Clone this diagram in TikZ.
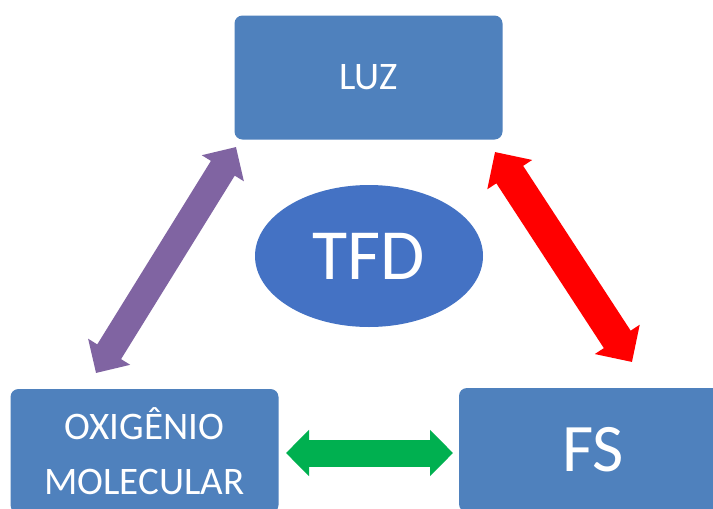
\documentclass[tikz,border=0pt]{standalone}
\usepackage{fontspec}
\setmainfont{Carlito}
\usetikzlibrary{arrows.meta,shapes.geometric}
\definecolor{boxblue}{HTML}{4F81BD}
\definecolor{ellblue}{HTML}{4472C4}
\definecolor{arrpurple}{HTML}{8064A2}
\definecolor{arrred}{HTML}{FF0000}
\definecolor{arrgreen}{HTML}{00B050}
\begin{document}
\begin{tikzpicture}[x=1pt,y=-1pt,
  box/.style={fill=boxblue, rounded corners=8pt, minimum width=268pt, minimum height=124pt,
    inner sep=0pt, text=white, align=center, font=\fontsize{39}{55}\selectfont},
  bigarrow/.style n args={4}{draw=#1, line width=#2,
    {Triangle[width=#3,length=#4]}-{Triangle[width=#3,length=#4]}}
]
\clip (0,0) rectangle (713,509);
\fill[white] (0,0) rectangle (713,509);
\node[box] (luz) at (368.5,77.5) {LUZ};
\node[box] (oxi) at (144.5,451) {OXIGÊNIO\\MOLECULAR};
\node[box, font=\fontsize{68}{72}\selectfont] (fs) at (593,450) {FS};
\node[ellipse, fill=ellblue, minimum width=228pt, minimum height=142pt, inner sep=0pt,
  text=white, font=\fontsize{72}{80}\selectfont] (tfd) at (369,256) {TFD};
\coordinate (pa) at (96,373);
\coordinate (pb) at (236,147);
\coordinate (ra) at (495,152);
\coordinate (rb) at (632,362);
\coordinate (ga) at (286,453);
\coordinate (gb) at (453,453);
\draw[bigarrow={arrpurple}{28pt}{48pt}{25pt}] (pa) -- (pb);
\draw[bigarrow={arrred}{32pt}{52pt}{27pt}] (ra) -- (rb);
\draw[bigarrow={arrgreen}{27pt}{45pt}{23pt}] (ga) -- (gb);
\end{tikzpicture}
\end{document}
